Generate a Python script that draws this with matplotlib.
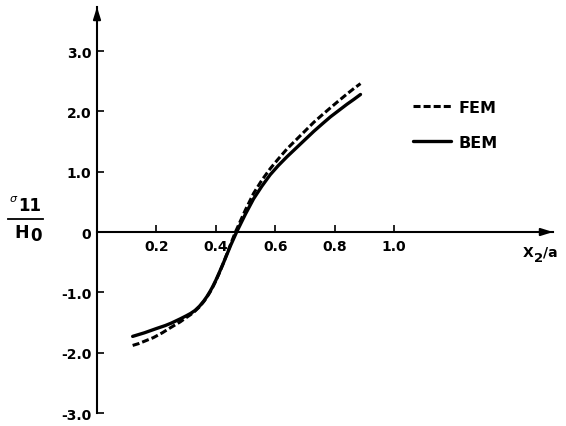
import matplotlib
matplotlib.use("Agg")
import matplotlib.pyplot as plt
from matplotlib.lines import Line2D

# ---- data ----
bem_x = [0.12, 0.16, 0.20, 0.23, 0.25, 0.28, 0.30, 0.315, 0.33, 0.345, 0.36, 0.37, 0.38,
         0.39, 0.40, 0.41, 0.425, 0.44, 0.45, 0.47, 0.50, 0.527, 0.555, 0.583, 0.61,
         0.64, 0.685, 0.73, 0.76, 0.786, 0.81, 0.842, 0.865, 0.887]
bem_y = [-1.73, -1.67, -1.60, -1.55, -1.51, -1.44, -1.39, -1.35, -1.30, -1.23, -1.14, -1.07, -0.99,
         -0.90, -0.80, -0.69, -0.52, -0.34, -0.22, 0.0, 0.30, 0.55, 0.76, 0.95, 1.10,
         1.25, 1.46, 1.67, 1.80, 1.91, 2.00, 2.12, 2.20, 2.28]

fem_x = [0.12, 0.14, 0.16, 0.19, 0.22, 0.246, 0.28, 0.30, 0.315, 0.33, 0.345, 0.36, 0.37,
         0.38, 0.39, 0.40, 0.41, 0.425, 0.44, 0.45, 0.466, 0.50, 0.527, 0.555, 0.583,
         0.61, 0.64, 0.685, 0.73, 0.76, 0.786, 0.81, 0.842, 0.865, 0.887]
fem_y = [-1.88, -1.85, -1.81, -1.75, -1.67, -1.59, -1.49, -1.42, -1.37, -1.31, -1.24, -1.15, -1.08,
         -1.00, -0.91, -0.81, -0.70, -0.52, -0.33, -0.20, 0.0, 0.37, 0.64, 0.86, 1.05,
         1.21, 1.38, 1.60, 1.82, 1.95, 2.06, 2.16, 2.29, 2.38, 2.46]

x_ticks = [0.2, 0.4, 0.6, 0.8, 1.0]
x_tick_labels = ["0.2", "0.4", "0.6", "0.8", "1.0"]
y_ticks = [3.0, 2.0, 1.0, 0.0, -1.0, -2.0, -3.0]
y_tick_labels = ["3.0", "2.0", "1.0", "0", "-1.0", "-2.0", "-3.0"]
series_labels = ["FEM", "BEM"]

W, H = 566, 427
fig = plt.figure(figsize=(W / 100, H / 100), dpi=100)
plt.rcParams['font.family'] = ['DejaVu Sans']

def fx(px):
    return px / W

def fy(py):
    return 1 - py / H

XMAX, YMIN, YMAX = 1.535, -3.0, 3.73
ax = fig.add_axes([fx(97), fy(414), fx(553) - fx(97), fy(8) - fy(414)])
ax.set_xlim(0, XMAX)
ax.set_ylim(YMIN, YMAX)

ax.spines['left'].set_position(('data', 0))
ax.spines['bottom'].set_position(('data', 0))
ax.spines['right'].set_visible(False)
ax.spines['top'].set_visible(False)
for s in ('left', 'bottom'):
    ax.spines[s].set_linewidth(1.5)

# arrow heads
ax.annotate('', xy=(XMAX, 0), xytext=(XMAX - 0.03, 0), annotation_clip=False,
            arrowprops=dict(arrowstyle='-|>,head_length=0.7,head_width=0.22',
                            lw=1.5, color='k', shrinkA=0, shrinkB=0))
ax.annotate('', xy=(0, YMAX), xytext=(0, YMAX - 0.1), annotation_clip=False,
            arrowprops=dict(arrowstyle='-|>,head_length=0.7,head_width=0.22',
                            lw=1.5, color='k', shrinkA=0, shrinkB=0))

ax.set_xticks(x_ticks)
ax.set_xticklabels(x_tick_labels)
ax.set_yticks(y_ticks)
ax.set_yticklabels(y_tick_labels)
ax.tick_params(axis='both', direction='in', length=5, width=1.2, labelsize=10)
ax.tick_params(axis='x', pad=5)
ax.tick_params(axis='y', pad=4)
for lab in ax.get_xticklabels() + ax.get_yticklabels():
    lab.set_fontweight('bold')

l1, = ax.plot(fem_x, fem_y, color='black', lw=2.2, linestyle=(0, (2.3, 1.0)),
              label=series_labels[0], solid_joinstyle='round')
l2, = ax.plot(bem_x, bem_y, color='black', lw=2.4, linestyle='-',
              label=series_labels[1], solid_capstyle='round', solid_joinstyle='round')

leg = fig.legend(handles=[l1, l2], loc='upper left',
                 bbox_to_anchor=(fx(413), fy(101)), bbox_transform=fig.transFigure,
                 frameon=False, borderpad=0, borderaxespad=0,
                 handlelength=2.4, handletextpad=0.45, labelspacing=1.25,
                 prop=dict(size=11.5, weight='bold'))

# y-axis label: sigma_11 / H_0 as a fraction
fig.text(fx(13.5), fy(199), 'σ', fontsize=8, style='italic', ha='center', va='center')
fig.text(fx(30), fy(206), '11', fontsize=12, fontweight='bold', ha='center', va='center')
fig.add_artist(Line2D([fx(8), fx(43)], [fy(220), fy(220)], color='black', lw=1.3,
                      transform=fig.transFigure))
fig.text(fx(21.5), fy(233.5), 'H', fontsize=12.5, fontweight='bold', ha='center', va='center')
fig.text(fx(36), fy(236), '0', fontsize=12, fontweight='bold', ha='center', va='center')

# x-axis label: X_2 / a
fig.text(fx(523), fy(257), 'X', fontsize=10, fontweight='bold', ha='left', va='baseline')
fig.text(fx(534), fy(262), '2', fontsize=9.5, fontweight='bold', ha='left', va='baseline')
fig.text(fx(543), fy(257), '/a', fontsize=10, fontweight='bold', ha='left', va='baseline')

fig.savefig('out.png', dpi=100)
